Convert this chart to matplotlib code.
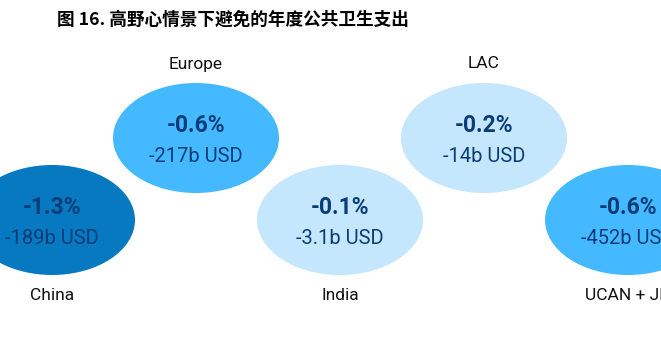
import matplotlib.pyplot as plt
from matplotlib.patches import Ellipse

plt.rcParams['font.family'] = ['Roboto', 'DejaVu Sans']

# data
regions = ['China', 'Europe', 'India', 'LAC', 'UCAN + JP']
pct_change = [-1.3, -0.6, -0.1, -0.2, -0.6]
usd_bn = ['-189', '-217', '-3.1', '-14', '-452']
colors = ['#0679C1', '#44B9FF', '#C4E7FD', '#C4E7FD', '#44B9FF']

title = '图 16. 高野心情景下避免的年度公共卫生支出'

# layout in pixel coords
W, H = 661, 360
xs = [52, 196, 340, 484, 628]
row_y = [220, 138, 220, 138, 220]
label_y = [296, 64, 296, 64, 296]

fig = plt.figure(figsize=(W / 100, H / 100), dpi=100)
ax = fig.add_axes([0, 0, 1, 1])
ax.set_xlim(0, W)
ax.set_ylim(H, 0)
ax.axis('off')

txt_col = '#0A3C78'
for i, r in enumerate(regions):
    ax.add_patch(Ellipse((xs[i], row_y[i]), 166, 110, facecolor=colors[i],
                         edgecolor='none'))
    ax.text(xs[i], row_y[i] - 12, f'{pct_change[i]:.1f}%', ha='center',
            va='center', fontsize=16.5, fontweight='bold', color=txt_col)
    ax.text(xs[i], row_y[i] + 19, f'{usd_bn[i]}b USD', ha='center',
            va='center', fontsize=14.5, color=txt_col)
    ax.text(xs[i], label_y[i], r, ha='center', va='center', fontsize=12.5,
            color='#111111')

fig.text(57 / W, 1 - 20 / H, title, ha='left', va='center', fontsize=12.7,
         fontweight='bold', family=['Noto Sans CJK SC', 'DejaVu Sans'])

fig.savefig('out.png', dpi=100)
